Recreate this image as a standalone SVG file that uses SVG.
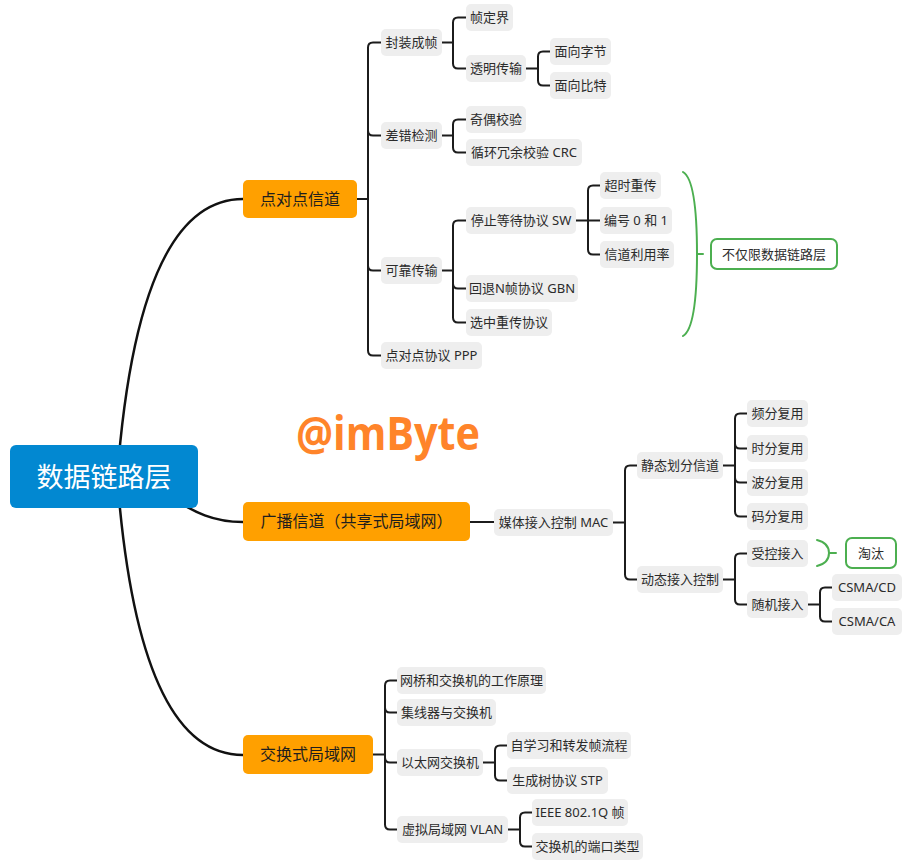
<svg xmlns="http://www.w3.org/2000/svg" width="917" height="861" viewBox="0 0 917 861">
<style>
.t{font-family:"Noto Sans","Noto Sans CJK SC",sans-serif;fill:#2b2b2b;text-anchor:middle}
.s{font-size:13px}
.l1{font-size:16px;fill:#1e1e1e}
.sub{fill:#eeeeee}
.org{fill:#ffa000}
.gb{fill:#ffffff;stroke:#4caf50;stroke-width:2}
.ln{fill:none;stroke:#1c1c1c;stroke-width:2;stroke-linecap:round;stroke-linejoin:round}
.main{fill:none;stroke:#111;stroke-width:2.5;stroke-linecap:round}
.br{fill:none;stroke:#4caf50;stroke-width:2;stroke-linecap:round}
</style>
<rect width="917" height="861" fill="#ffffff"/>
<g id="connectors">
<path class="main" d="M117 480 C128 330 160 199 243 199"/>
<path class="main" d="M117 474 C128 624 160 755 243 755"/>
<path class="main" d="M165 493 C195 514 215 522 243 522"/>
<path class="ln" d="M357 199 H368 M381 42.5 H373 Q368 42.5 368 47.5 V350.5 Q368 355.5 373 355.5 H381 M368 130.5 Q368 135.5 373 135.5 H381 M368 265.5 Q368 270.5 373 270.5 H381"/>
<path class="ln" d="M442 42.5 H453 M466 17.5 H458 Q453 17.5 453 22.5 V63.5 Q453 68.5 458 68.5 H466"/>
<path class="ln" d="M526 68.5 H538 M550 51.5 H543 Q538 51.5 538 56.5 V80.5 Q538 85.5 543 85.5 H550"/>
<path class="ln" d="M442 135.5 H453 M466 119.5 H458 Q453 119.5 453 124.5 V147.5 Q453 152.5 458 152.5 H466"/>
<path class="ln" d="M442 270.5 H453 M466 220.5 H458 Q453 220.5 453 225.5 V317.5 Q453 322.5 458 322.5 H466 M453 283.5 Q453 288.5 458 288.5 H466"/>
<path class="ln" d="M576 220.5 H600 M600 185.5 H593 Q588 185.5 588 190.5 V249.5 Q588 254.5 593 254.5 H600"/>
<path class="ln" d="M470 522 H494"/>
<path class="ln" d="M613 522.5 H625 M637 465.5 H630 Q625 465.5 625 470.5 V574.5 Q625 579.5 630 579.5 H637"/>
<path class="ln" d="M723 465.5 H735 M747 413.5 H740 Q735 413.5 735 418.5 V511.5 Q735 516.5 740 516.5 H747 M735 443.5 Q735 448.5 740 448.5 H747 M735 477.5 Q735 482.5 740 482.5 H747"/>
<path class="ln" d="M723 579.5 H735 M747 553.5 H740 Q735 553.5 735 558.5 V599.5 Q735 604.5 740 604.5 H747"/>
<path class="ln" d="M808 604.5 H820 M832 587.5 H825 Q820 587.5 820 592.5 V616.5 Q820 621.5 825 621.5 H832"/>
<path class="ln" d="M373 754.5 H385 M397 680.5 H390 Q385 680.5 385 685.5 V824.5 Q385 829.5 390 829.5 H397 M385 707.5 Q385 712.5 390 712.5 H397 M385 757.5 Q385 762.5 390 762.5 H397"/>
<path class="ln" d="M483 762.5 H495 M507 745.5 H500 Q495 745.5 495 750.5 V775.5 Q495 780.5 500 780.5 H507"/>
<path class="ln" d="M508 829.5 H520 M532 812.5 H525 Q520 812.5 520 817.5 V841.5 Q520 846.5 525 846.5 H532"/>
<path class="br" d="M683 172 Q697 180 697 254 Q697 328 683 336 M697 254 H703"/>
<path class="br" d="M817 540 Q829 543 829 553 Q829 563 817 566 M829 553 H836"/>
</g>
<g id="root"><rect x="10" y="445" width="188" height="63" rx="6" fill="#0288d1"/><text x="104" y="486.5" class="t" style="font-size:27px;fill:#ffffff">数据链路层</text></g>
<g id="n-p2p"><rect x="243" y="180" width="114" height="38" rx="5" class="org"/><text x="300" y="204.5" class="t l1">点对点信道</text></g>
<g id="n-bcast"><rect x="243" y="502" width="227" height="39" rx="5" class="org"/><text x="356.5" y="527" class="t l1">广播信道（共享式局域网）</text></g>
<g id="n-swlan"><rect x="243" y="735" width="130" height="39" rx="5" class="org"/><text x="308" y="760" class="t l1">交换式局域网</text></g>
<g id="n-frame"><rect x="381" y="29" width="61" height="27" rx="5" class="sub"/><text x="411.5" y="47" class="t s">封装成帧</text></g>
<g id="n-err"><rect x="381" y="122" width="61" height="27" rx="5" class="sub"/><text x="411.5" y="140" class="t s">差错检测</text></g>
<g id="n-rel"><rect x="381" y="257" width="61" height="27" rx="5" class="sub"/><text x="411.5" y="275" class="t s">可靠传输</text></g>
<g id="n-ppp"><rect x="381" y="342" width="101" height="27" rx="5" class="sub"/><text x="431.5" y="360" class="t s">点对点协议 PPP</text></g>
<g id="n-delim"><rect x="466" y="4" width="47" height="27" rx="5" class="sub"/><text x="489.5" y="22" class="t s">帧定界</text></g>
<g id="n-transp"><rect x="466" y="55" width="60" height="27" rx="5" class="sub"/><text x="496" y="73" class="t s">透明传输</text></g>
<g id="n-byte"><rect x="550" y="38" width="61" height="27" rx="5" class="sub"/><text x="580.5" y="56" class="t s">面向字节</text></g>
<g id="n-bit"><rect x="550" y="72" width="61" height="27" rx="5" class="sub"/><text x="580.5" y="90" class="t s">面向比特</text></g>
<g id="n-parity"><rect x="466" y="106" width="60" height="27" rx="5" class="sub"/><text x="496" y="124" class="t s">奇偶校验</text></g>
<g id="n-crc"><rect x="466" y="139" width="116" height="27" rx="5" class="sub"/><text x="524" y="157" class="t s">循环冗余校验 CRC</text></g>
<g id="n-sw"><rect x="466" y="207" width="110" height="27" rx="5" class="sub"/><text x="521" y="225" class="t s">停止等待协议 SW</text></g>
<g id="n-gbn"><rect x="466" y="275" width="112" height="27" rx="5" class="sub"/><text x="522" y="293" class="t s">回退N帧协议 GBN</text></g>
<g id="n-sr"><rect x="466" y="309" width="86" height="27" rx="5" class="sub"/><text x="509" y="327" class="t s">选中重传协议</text></g>
<g id="n-timeout"><rect x="600" y="172" width="61" height="27" rx="5" class="sub"/><text x="630.5" y="190" class="t s">超时重传</text></g>
<g id="n-seq"><rect x="600" y="207" width="72" height="27" rx="5" class="sub"/><text x="636" y="225" class="t s">编号 0 和 1</text></g>
<g id="n-util"><rect x="600" y="241" width="74" height="27" rx="5" class="sub"/><text x="637" y="259" class="t s">信道利用率</text></g>
<g id="n-notonly"><rect x="711" y="239" width="126" height="30" rx="6" class="gb"/><text x="774" y="258.5" class="t s">不仅限数据链路层</text></g>
<g id="n-mac"><rect x="494" y="509" width="119" height="27" rx="5" class="sub"/><text x="553.5" y="527" class="t s">媒体接入控制 MAC</text></g>
<g id="n-static"><rect x="637" y="452" width="86" height="27" rx="5" class="sub"/><text x="680" y="470" class="t s">静态划分信道</text></g>
<g id="n-dyn"><rect x="637" y="566" width="86" height="27" rx="5" class="sub"/><text x="680" y="584" class="t s">动态接入控制</text></g>
<g id="n-fdm"><rect x="747" y="400" width="61" height="27" rx="5" class="sub"/><text x="777.5" y="418" class="t s">频分复用</text></g>
<g id="n-tdm"><rect x="747" y="435" width="61" height="27" rx="5" class="sub"/><text x="777.5" y="453" class="t s">时分复用</text></g>
<g id="n-wdm"><rect x="747" y="469" width="61" height="27" rx="5" class="sub"/><text x="777.5" y="487" class="t s">波分复用</text></g>
<g id="n-cdm"><rect x="747" y="503" width="61" height="27" rx="5" class="sub"/><text x="777.5" y="521" class="t s">码分复用</text></g>
<g id="n-ctrl"><rect x="747" y="540" width="61" height="27" rx="5" class="sub"/><text x="777.5" y="558" class="t s">受控接入</text></g>
<g id="n-rand"><rect x="747" y="591" width="61" height="27" rx="5" class="sub"/><text x="777.5" y="609" class="t s">随机接入</text></g>
<g id="n-obsolete"><rect x="846" y="538" width="50" height="30" rx="6" class="gb"/><text x="871" y="557.5" class="t s">淘汰</text></g>
<g id="n-cd"><rect x="832" y="574" width="70" height="27" rx="5" class="sub"/><text x="867" y="592" class="t s">CSMA/CD</text></g>
<g id="n-ca"><rect x="832" y="608" width="70" height="27" rx="5" class="sub"/><text x="867" y="626" class="t s">CSMA/CA</text></g>
<g id="n-bridge"><rect x="397" y="667" width="149" height="27" rx="5" class="sub"/><text x="471.5" y="685" class="t s">网桥和交换机的工作原理</text></g>
<g id="n-hub"><rect x="397" y="699" width="99" height="27" rx="5" class="sub"/><text x="446.5" y="717" class="t s">集线器与交换机</text></g>
<g id="n-eth"><rect x="397" y="749" width="86" height="27" rx="5" class="sub"/><text x="440" y="767" class="t s">以太网交换机</text></g>
<g id="n-vlan"><rect x="397" y="816" width="111" height="27" rx="5" class="sub"/><text x="452.5" y="834" class="t s">虚拟局域网 VLAN</text></g>
<g id="n-learn"><rect x="507" y="732" width="124" height="27" rx="5" class="sub"/><text x="569" y="750" class="t s">自学习和转发帧流程</text></g>
<g id="n-stp"><rect x="507" y="767" width="101" height="27" rx="5" class="sub"/><text x="557.5" y="785" class="t s">生成树协议 STP</text></g>
<g id="n-8021q"><rect x="532" y="799" width="96" height="27" rx="5" class="sub"/><text x="580" y="817" class="t s">IEEE 802.1Q 帧</text></g>
<g id="n-port"><rect x="532" y="833" width="111" height="27" rx="5" class="sub"/><text x="587.5" y="851" class="t s">交换机的端口类型</text></g>
<text x="296" y="450" textLength="184" lengthAdjust="spacingAndGlyphs" style="font-family:'Open Sans','Liberation Sans',sans-serif;font-weight:bold;font-size:46px;fill:#ff842a">@imByte</text>
</svg>
